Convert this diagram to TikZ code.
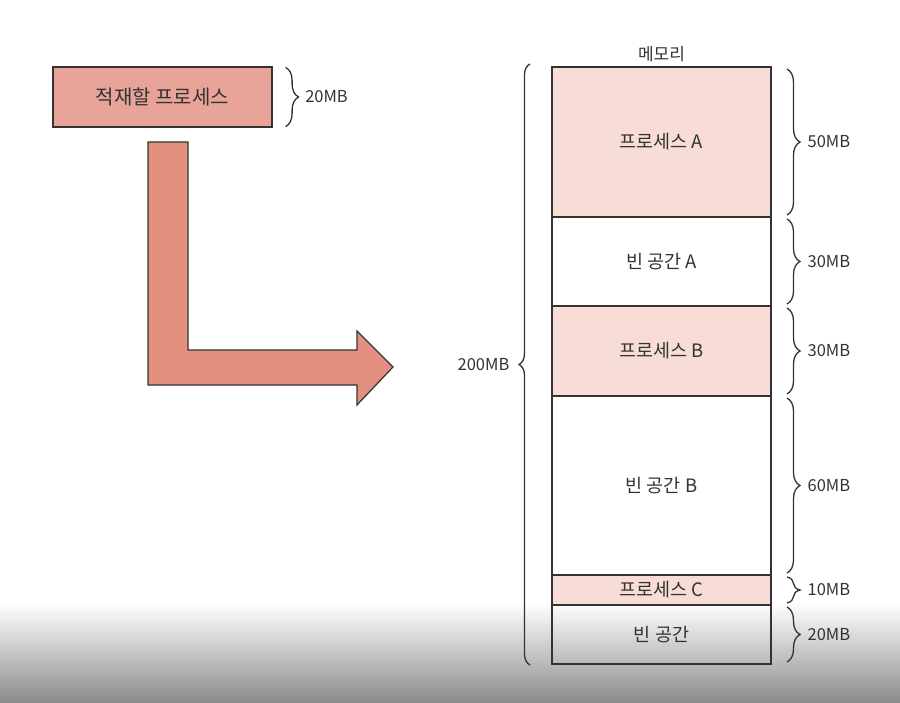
\documentclass[tikz,border=0pt]{standalone}
\usepackage{fontspec}
\setmainfont{Noto Sans CJK KR}
\usepackage{tikz}
\usetikzlibrary{positioning, decorations.pathreplacing}
\definecolor{inkgray}{HTML}{333333}
\definecolor{boxfill}{HTML}{E8A498}
\definecolor{arrowfill}{HTML}{E4907F}
\definecolor{procfill}{HTML}{F7DDD6}

\begin{document}
\begin{tikzpicture}[x=1pt, y=-1pt,
    memblock/.style={draw=inkgray, line width=1.2pt, minimum width=219pt, inner sep=0pt,
      outer sep=0pt, text=inkgray, font=\fontsize{18.5}{21}\selectfont},
    procbox/.style={draw=inkgray, line width=1.2pt, fill=boxfill, minimum width=219pt,
      minimum height=60pt, text=inkgray, font=\fontsize{20}{23}\selectfont},
    sizebrace/.style={draw=inkgray, line width=1.3pt, decorate,
      decoration={brace, amplitude=13pt, raise=16pt}},
    sizelabel/.style={text=inkgray, font=\fontsize{16.5}{19}\selectfont, inner sep=0pt}]
    \useasboundingbox (0,0) rectangle (900,702);
    % screen shadow at the bottom
    \shade[top color=white, bottom color=gray!90] (0,603) rectangle (900,702);

    % process waiting to be loaded
    \node[procbox] (newproc) at (162.5,97) {적재할 프로세스};
    \draw[sizebrace, decoration={raise=13pt}]
      ([yshift=-1pt]newproc.north east) -- ([yshift=1pt]newproc.south east)
      node[sizelabel, midway, right=32pt] (newsize) {20MB};

    % big L arrow
    \draw[inkgray, line width=1.2pt, fill=arrowfill, line join=miter]
      (148,142) -- (188,142) -- (188,350) -- (357,350) -- (357,331)
      -- (393,367) -- (357,405) -- (357,385) -- (148,385) -- cycle;

    % memory
    \node[memblock, fill=procfill, minimum height=150pt] (procA) at (661.5,142) {프로세스 A};
    \node[memblock, minimum height=89pt, below=0pt of procA] (freeA) {빈 공간 A};
    \node[memblock, fill=procfill, minimum height=90pt, below=0pt of freeA] (procB) {프로세스 B};
    \node[memblock, minimum height=179pt, below=0pt of procB] (freeB) {빈 공간 B};
    \node[memblock, fill=procfill, minimum height=30pt, below=0pt of freeB] (procC) {프로세스 C};
    \node[memblock, minimum height=59pt, below=0pt of procC] (freeC) {빈 공간};
    \node[text=inkgray, font=\fontsize{17}{20}\selectfont, above=2pt of procA] (memtitle) {메모리};

    % block sizes
    \foreach \blk/\sz in {procA/50MB, freeA/30MB, procB/30MB, freeB/60MB, procC/10MB, freeC/20MB} {
      \draw[sizebrace]
        ([yshift=-2pt]\blk.north east) -- ([yshift=2pt]\blk.south east)
        node[sizelabel, midway, right=36pt] {\sz};
    }

    % total size
    \draw[sizebrace, decoration={raise=22pt, amplitude=11pt}]
      ([yshift=-1pt]freeC.south west) -- ([yshift=3pt]procA.north west)
      node[sizelabel, midway, left=42pt] (totalsize) {200MB};
  \end{tikzpicture}
\end{document}
